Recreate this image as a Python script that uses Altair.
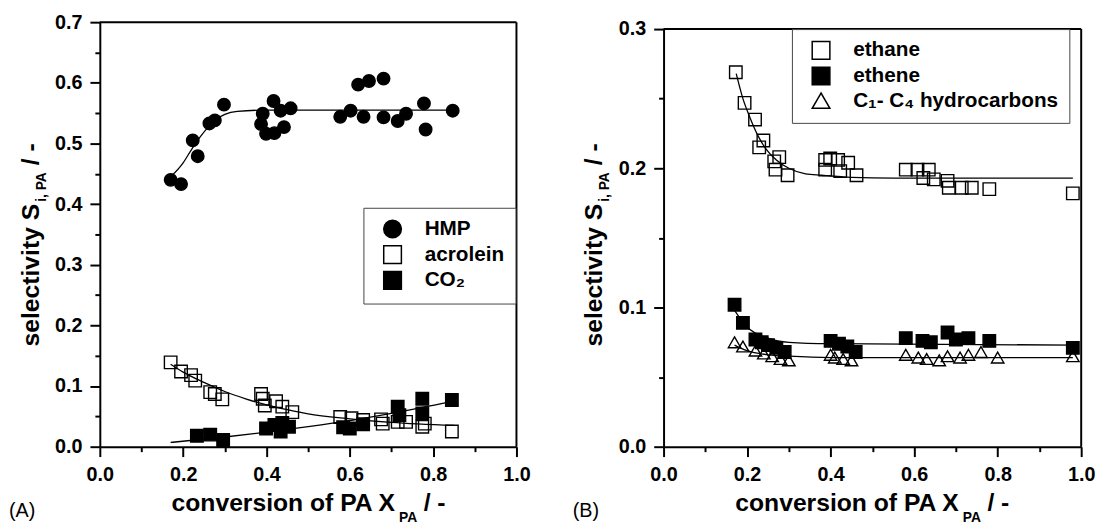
import altair as alt
import pandas as pd

FONT = "Liberation Sans"

# ---------------- Panel A data ----------------
hmp_x = [0.170, 0.195, 0.223, 0.235, 0.263, 0.276, 0.298, 0.391, 0.417, 0.458, 0.387, 0.399, 0.419, 0.442,
         0.434, 0.577, 0.602, 0.633, 0.620, 0.646, 0.681, 0.681, 0.715, 0.735, 0.778, 0.782, 0.847]
hmp_y = [0.440, 0.433, 0.505, 0.479, 0.533, 0.538, 0.564, 0.549, 0.570, 0.558, 0.532, 0.516, 0.517, 0.527,
         0.554, 0.544, 0.554, 0.544, 0.597, 0.603, 0.607, 0.543, 0.537, 0.549, 0.566, 0.523, 0.554]

acr_x = [0.170, 0.195, 0.219, 0.229, 0.265, 0.276, 0.294, 0.387, 0.391, 0.396, 0.423, 0.438, 0.462,
         0.577, 0.604, 0.632, 0.675, 0.679, 0.715, 0.735, 0.774, 0.780, 0.845]
acr_y = [0.139, 0.124, 0.118, 0.109, 0.090, 0.087, 0.078, 0.087, 0.079, 0.068, 0.075, 0.066, 0.057,
         0.049, 0.047, 0.044, 0.045, 0.038, 0.041, 0.041, 0.033, 0.038, 0.025]

co2_x = [0.233, 0.265, 0.296, 0.399, 0.419, 0.434, 0.454, 0.438, 0.584, 0.600, 0.632, 0.715, 0.719,
         0.774, 0.774, 0.845]
co2_y = [0.018, 0.020, 0.011, 0.030, 0.036, 0.025, 0.033, 0.039, 0.032, 0.030, 0.037, 0.066, 0.052,
         0.079, 0.055, 0.077]

hmp_fit_x = [0.17, 0.20, 0.22, 0.24, 0.26, 0.28, 0.30, 0.33, 0.40, 0.85]
hmp_fit_y = [0.445, 0.468, 0.490, 0.510, 0.527, 0.540, 0.548, 0.553, 0.555, 0.555]
acr_fit_x = [0.17, 0.20, 0.25, 0.30, 0.35, 0.40, 0.45, 0.50, 0.60, 0.70, 0.85]
acr_fit_y = [0.136, 0.123, 0.106, 0.091, 0.079, 0.069, 0.061, 0.054, 0.046, 0.040, 0.035]
co2_fit_x = [0.17, 0.30, 0.40, 0.50, 0.60, 0.70, 0.85]
co2_fit_y = [0.007, 0.016, 0.024, 0.033, 0.043, 0.055, 0.075]

series_A = ["HMP", "acrolein", "CO\u2082"]

# ---------------- Panel B data ----------------
eta_x = [0.173, 0.194, 0.219, 0.239, 0.229, 0.265, 0.277, 0.268, 0.297, 0.387, 0.399, 0.418, 0.442,
         0.387, 0.423, 0.462, 0.580, 0.608, 0.635, 0.622, 0.647, 0.680, 0.683, 0.714, 0.738, 0.780, 0.980]
eta_y = [0.269, 0.247, 0.235, 0.220, 0.215, 0.205, 0.208, 0.199, 0.195, 0.206, 0.207, 0.206, 0.204,
         0.199, 0.198, 0.195, 0.199, 0.199, 0.199, 0.193, 0.192, 0.191, 0.186, 0.186, 0.186, 0.185, 0.182]

ete_x = [0.170, 0.190, 0.220, 0.235, 0.250, 0.270, 0.290, 0.400, 0.420, 0.440, 0.460, 0.580, 0.620,
         0.640, 0.680, 0.700, 0.730, 0.780, 0.980]
ete_y = [0.102, 0.089, 0.077, 0.075, 0.073, 0.071, 0.068, 0.076, 0.074, 0.072, 0.068, 0.078, 0.076,
         0.075, 0.082, 0.077, 0.078, 0.076, 0.071]

hc_x = [0.170, 0.190, 0.220, 0.240, 0.260, 0.280, 0.300, 0.400, 0.410, 0.430, 0.450, 0.580, 0.610,
        0.630, 0.660, 0.680, 0.710, 0.730, 0.760, 0.800, 0.980]
hc_y = [0.075, 0.072, 0.069, 0.067, 0.065, 0.063, 0.062, 0.066, 0.064, 0.063, 0.062, 0.066, 0.064,
        0.063, 0.062, 0.065, 0.064, 0.066, 0.068, 0.064, 0.065]

eta_fit_x = [0.174, 0.190, 0.206, 0.225, 0.245, 0.270, 0.300, 0.340, 0.378, 0.450, 0.550, 0.980]
eta_fit_y = [0.268, 0.250, 0.237, 0.224, 0.214, 0.206, 0.200, 0.196, 0.195, 0.1935, 0.193, 0.193]
ete_fit_x = [0.17, 0.20, 0.25, 0.30, 0.40, 0.980]
ete_fit_y = [0.098, 0.086, 0.078, 0.075, 0.074, 0.073]
hc_fit_x = [0.17, 0.20, 0.25, 0.30, 0.40, 0.980]
hc_fit_y = [0.073, 0.069, 0.066, 0.065, 0.064, 0.064]

series_B = ["ethane", "ethene", "C\u2081- C\u2084 hydrocarbons"]

# tick values
x_ticks = [0.0, 0.1, 0.2, 0.3, 0.4, 0.5, 0.6, 0.7, 0.8, 0.9, 1.0]
yA_ticks = [0.0, 0.05, 0.1, 0.15, 0.2, 0.25, 0.3, 0.35, 0.4, 0.45, 0.5, 0.55, 0.6, 0.65, 0.7]
yB_ticks = [0.0, 0.05, 0.1, 0.15, 0.2, 0.25, 0.3]


def frame(names, xs_list, ys_list):
    rows = []
    for n, xs, ys in zip(names, xs_list, ys_list):
        for a, b in zip(xs, ys):
            rows.append({"series": n, "x": a, "y": b})
    return pd.DataFrame(rows)


def axis(values, step_mult, pad):
    major = f"abs(datum.value*{step_mult} - round(datum.value*{step_mult})) < 0.000001"
    return alt.Axis(
        values=values, title=None, grid=False,
        labelExpr=f"{major} ? format(datum.value, '.1f') : ''",
        tickSize={"condition": {"test": major, "value": 10}, "value": 5},
        tickWidth=2, tickColor="black", domainColor="black", domainWidth=2,
        labelFont=FONT, labelFontSize=20, labelFontWeight="bold", labelColor="black",
        labelPadding=pad, labelOverlap=False, labelFlush=False,
    )


ONE = alt.Data(values=[{"k": 0}])


def txt(text, x, y, size, angle=0, weight="bold", align="left"):
    return alt.Chart(ONE).mark_text(
        font=FONT, fontSize=size, fontWeight=weight, angle=angle,
        align=align, baseline="alphabetic", color="black",
    ).encode(x=alt.value(x), y=alt.value(y), text=alt.value(text))


def panel(pts, fits, names, shapes, fills, ymax, yticks, W, H, ytop, legx, legy, label):
    xs = alt.X("x:Q", scale=alt.Scale(domain=[0, 1], nice=False), axis=axis(x_ticks, 5, 8))
    yscale = alt.Scale(domain=[0, ymax], nice=False, range=[H, ytop])
    ys = alt.Y("y:Q", scale=yscale, axis=axis(yticks, 10, 8))
    leg = alt.Legend(
        title=None, orient="none", legendX=legx, legendY=legy, direction="vertical",
        fillColor="white", strokeColor="#444", padding=11, symbolOffset=8, symbolSize=320,
        symbolStrokeColor="black", symbolStrokeWidth=1.5, labelFont=FONT, labelFontSize=21,
        labelFontWeight="bold", labelColor="black", labelOffset=22, rowPadding=1, labelLimit=400,
    )
    lines = alt.Chart(fits).mark_line(color="black", strokeWidth=1.3, interpolate="monotone").encode(
        x=xs, y=ys, detail="series:N")
    points = alt.Chart(pts).mark_point(filled=True, strokeWidth=1.4, size=160, opacity=1).encode(
        x=xs, y=ys,
        shape=alt.Shape("series:N", scale=alt.Scale(domain=names, range=shapes), legend=leg),
        fill=alt.Fill("series:N", scale=alt.Scale(domain=names, range=fills), legend=leg),
        stroke=alt.Stroke("series:N", scale=alt.Scale(domain=names, range=["black", "black", "black"]), legend=leg),
    )
    frame_top = alt.Chart(ONE).mark_rule(color="black", strokeWidth=2).encode(
        x=alt.value(0), x2=alt.value(W), y=alt.value(ytop))
    frame_right = alt.Chart(ONE).mark_rule(color="black", strokeWidth=2).encode(
        x=alt.value(W), y=alt.value(ytop), y2=alt.value(H))
    layers = [lines, points, frame_top, frame_right,
              txt("conversion of PA X", 299, H + 65, 25, align="right"),
              txt("PA", 303, H + 76, 14),
              txt("/ -", 328, H + 65, 25),
              txt("selectivity S", -62, H - 246, 25, angle=270, align="right"),
              txt("i, PA", -55, H - 248, 14, angle=270),
              txt("/ -", -62, H - 285, 25, angle=270),
              txt(label, -92, H + 71, 20, weight="normal")]
    return alt.layer(*layers).properties(
        width=W, height=H, view=alt.ViewBackground(stroke="transparent"))


ptsA = frame(series_A, [hmp_x, acr_x, co2_x], [hmp_y, acr_y, co2_y])
fitA = frame(series_A, [hmp_fit_x, acr_fit_x, co2_fit_x], [hmp_fit_y, acr_fit_y, co2_fit_y])
ptsB = frame(series_B, [eta_x, ete_x, hc_x], [eta_y, ete_y, hc_y])
fitB = frame(series_B, [eta_fit_x, ete_fit_x, hc_fit_x], [eta_fit_y, ete_fit_y, hc_fit_y])

left = panel(ptsA, fitA, series_A, ["circle", "square", "square"], ["black", "transparent", "black"],
             0.7, yA_ticks, 422, 430, 0, 267, 188, "(A)")
right = panel(ptsB, fitB, series_B, ["square", "square", "triangle-up"], ["transparent", "black", "transparent"],
              0.3, yB_ticks, 423, 430, 7, 130, 7, "(B)")

chart = alt.hconcat(left, right, spacing=41).resolve_scale(
    shape="independent", fill="independent", stroke="independent"
).properties(padding=0).configure_view(stroke="transparent")

chart.save("out.html", embed_options={"renderer": "svg", "actions": False})
